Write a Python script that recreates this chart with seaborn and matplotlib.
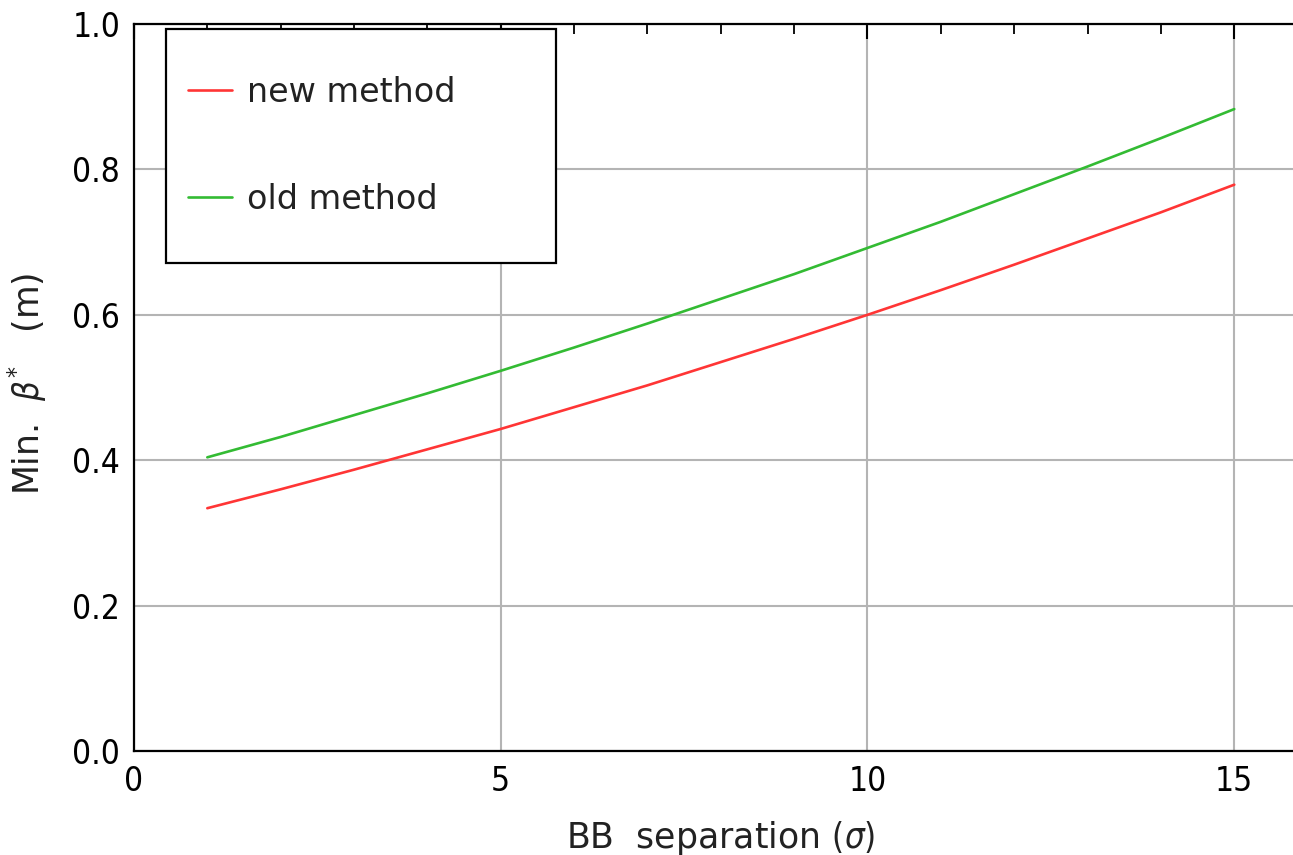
import numpy as np
import pandas as pd
import matplotlib.pyplot as plt
import matplotlib.ticker as mticker
import seaborn as sns

# values
bb_sep = [1, 2, 3, 4, 5, 6, 7, 8, 9, 10, 11, 12, 13, 14, 15]
beta_new = [0.334, 0.360, 0.387, 0.415, 0.443, 0.473, 0.503, 0.535,
            0.567, 0.600, 0.634, 0.669, 0.705, 0.741, 0.779]
beta_old = [0.404, 0.432, 0.462, 0.492, 0.523, 0.555, 0.588, 0.622,
            0.656, 0.692, 0.728, 0.766, 0.804, 0.843, 0.883]
methods = ['new method', 'old method']

df = pd.DataFrame({
    'sep': bb_sep * 2,
    'beta': beta_new + beta_old,
    'method': [methods[0]] * len(bb_sep) + [methods[1]] * len(bb_sep),
})

sns.set_theme(style='white')
plt.rcParams['font.family'] = ['DejaVu Sans']
plt.rcParams['font.stretch'] = 'condensed'   # tick labels look narrow
plt.rcParams['mathtext.fontset'] = 'dejavusans'

fig = plt.figure(figsize=(12.93, 8.55), dpi=100)
ax = fig.add_axes([0.1036, 0.1216, 0.9077, 0.8503])

sns.lineplot(data=df, x='sep', y='beta', hue='method',
             palette={'new method': '#ff3535', 'old method': '#33bb33'},
             linewidth=1.9, ax=ax)

ax.set_xlim(0, 16)
ax.set_ylim(0, 1.0)
ax.xaxis.set_major_locator(mticker.MultipleLocator(5))
ax.xaxis.set_minor_locator(mticker.MultipleLocator(1))
ax.yaxis.set_major_locator(mticker.MultipleLocator(0.2))
ax.yaxis.set_minor_locator(mticker.MultipleLocator(0.05))
ax.yaxis.set_major_formatter(mticker.FormatStrFormatter('%.1f'))

ax.tick_params(which='both', direction='in', top=True, right=True,
               labelsize=24, colors='black', pad=10)
ax.tick_params(which='major', length=11, width=1.5)
ax.tick_params(which='minor', length=7, width=1.3)
for s in ax.spines.values():
    s.set_color('black')
    s.set_linewidth(1.6)

ax.grid(True, which='major', color='#b4b4b4', linewidth=1.5)
ax.set_axisbelow(True)

ax.set_xlabel(r'BB  separation $(\sigma)$', fontsize=25, color='#222222',
              fontstretch='normal')
ax.set_ylabel(r'Min.  $\beta^{*}$   (m)', fontsize=25, color='#222222',
              fontstretch='normal')
ax.xaxis.set_label_coords(0.5, -0.093)
ax.yaxis.set_label_coords(-0.072, 0.505)

leg = ax.legend(loc='upper left', bbox_to_anchor=(0.0273, 0.668, 0.332, 0.325),
                mode='expand', borderaxespad=0, frameon=True,
                prop={'size': 24, 'stretch': 'normal'},
                fancybox=False, borderpad=0.66, handlelength=1.32,
                handleheight=3.45, handletextpad=0.45, labelspacing=0.71)
leg.get_frame().set_edgecolor('black')
leg.get_frame().set_linewidth(1.6)
leg.get_frame().set_alpha(1)
for t in leg.get_texts():
    t.set_color('#222222')
# tall handle boxes put the line above the text; bring it level again
for h in leg.legend_handles:
    h.set_ydata(np.asarray(h.get_ydata()) - 10)

fig.savefig('out.png', dpi=100)
